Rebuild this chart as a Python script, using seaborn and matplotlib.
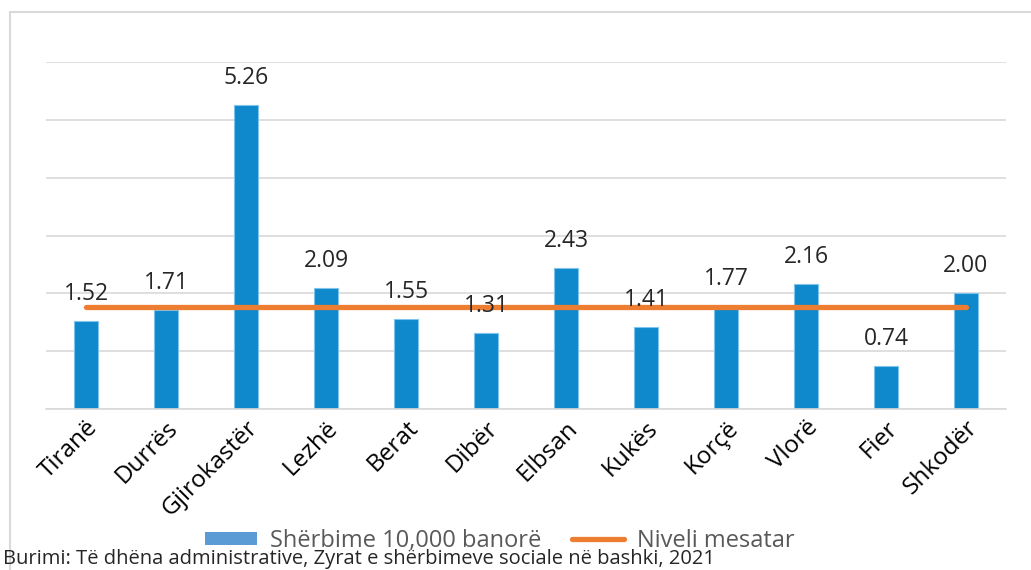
import matplotlib
matplotlib.use("Agg")
import matplotlib.pyplot as plt
import seaborn as sns
import pandas as pd
from matplotlib.patches import Patch
from matplotlib.lines import Line2D

# Data
qarqet = ["Tiranë", "Durrës", "Gjirokastër", "Lezhë", "Berat", "Dibër",
          "Elbsan", "Kukës", "Korçë", "Vlorë", "Fier", "Shkodër"]
sherbime = [1.52, 1.71, 5.26, 2.09, 1.55, 1.31, 2.43, 1.41, 1.77, 2.16, 0.74, 2.00]
niveli_mesatar = 1.77

bar_label = "Shërbime 10,000 banorë"
line_label = "Niveli mesatar"
source = "Burimi: Të dhëna administrative, Zyrat e shërbimeve sociale në bashki, 2021"

sns.set_style("white")
plt.rcParams["font.family"] = ["Open Sans", "DejaVu Sans"]

df = pd.DataFrame({"Qarku": qarqet, "Vlera": sherbime,
                   "Mesatar": [niveli_mesatar] * len(qarqet)})

fig = plt.figure(figsize=(10.31, 5.70), dpi=100)
ax = fig.add_axes([46 / 1031, 1 - 409 / 570, 960 / 1031, (409 - 62) / 570])

sns.barplot(data=df, x="Qarku", y="Vlera", color="#0F88CC", width=0.31,
            edgecolor="#7FC4EA", linewidth=0.8, saturation=1, ax=ax, zorder=2)
sns.lineplot(data=df, x="Qarku", y="Mesatar", color="#ED7D31", linewidth=3.8,
             solid_capstyle="round", ax=ax, zorder=3)

ax.bar_label(ax.containers[0], labels=[f"{v:.2f}" for v in sherbime],
             padding=11, fontsize=16.5, color="#262626", zorder=4)

ax.set_ylim(0, 6)
ax.set_xlim(-0.5, len(qarqet) - 0.5)
ax.set_yticks(range(0, 7))
ax.set_yticklabels([])
ax.tick_params(axis="y", length=0)
ax.tick_params(axis="x", length=0, pad=5, labelsize=17.5, labelcolor="#000000")
ax.yaxis.grid(True, color="#d9d9d9", linewidth=1.2, zorder=0)
ax.set_axisbelow(True)
for s in ["left", "right", "top"]:
    ax.spines[s].set_visible(False)
ax.spines["bottom"].set_color("#d9d9d9")
ax.spines["bottom"].set_linewidth(1.2)
ax.set_xlabel("")
ax.set_ylabel("")
plt.setp(ax.get_xticklabels(), rotation=45, ha="right", rotation_mode="anchor")

# outer frame (top and left only)
fig.add_artist(Line2D([10 / 1031, 1], [1 - 12 / 570, 1 - 12 / 570],
                      color="#d9d9d9", linewidth=1.5, transform=fig.transFigure))
fig.add_artist(Line2D([10 / 1031, 10 / 1031], [0, 1 - 12 / 570],
                      color="#d9d9d9", linewidth=1.5, transform=fig.transFigure))

handles = [Patch(facecolor="#5B9BD5", edgecolor="none"),
           Line2D([0], [0], color="#ED7D31", linewidth=3.8, solid_capstyle="round")]
fig.legend(handles, [bar_label, line_label], ncol=2, loc="center",
           bbox_to_anchor=(500 / 1031, 1 - 541 / 570), frameon=False,
           fontsize=17, labelcolor="#595959", handlelength=2.2,
           handleheight=0.5, handletextpad=0.55, columnspacing=1.3)

fig.text(0.003, 0.011, source, fontsize=14.5, color="#262626", va="baseline")

fig.savefig("out.png", dpi=100)
